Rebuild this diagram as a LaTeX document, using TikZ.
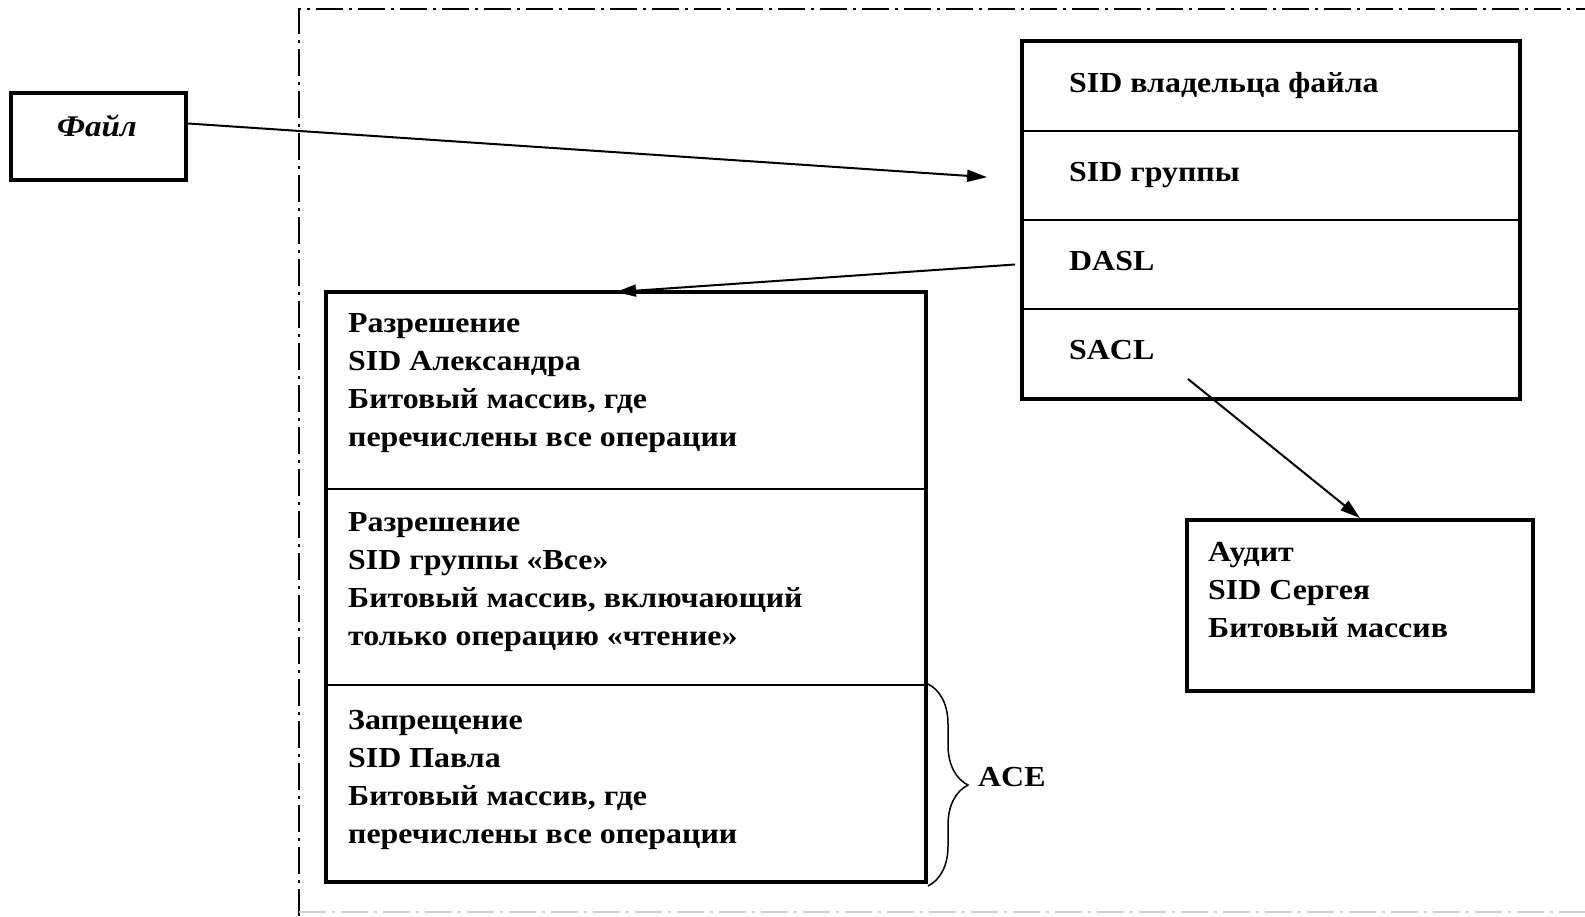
\documentclass[tikz,border=0pt]{standalone}
\usepackage{fontspec}
\setmainfont{Liberation Serif}[FakeStretch=1.1]
\usetikzlibrary{arrows.meta,decorations.pathreplacing,calc}

\begin{document}
\begin{tikzpicture}[x=1pt,y=-1pt,
  frameline/.style={line width=2pt, dash pattern=on 27pt off 6pt on 3pt off 6pt},
  cell/.style={draw, line width=2pt, inner sep=0pt},
  outline/.style={draw, line width=4pt},
  txt/.style={anchor=base west, inner sep=0pt, font=\fontsize{29}{38.3}\selectfont\bfseries},
  link/.style={line width=2pt, -{Triangle[length=20pt,width=12pt]}},
]
\useasboundingbox (0,0) rectangle (1585,916);

% dash-dot frame around the security descriptor
\draw[frameline] (299,916) -- (299,9) -- (1600,9);
\draw[frameline, black!18] (299,912) -- (1600,912);

% the file
\node[outline, minimum width=175pt, minimum height=87pt] (file) at (98.5,136.5) {};
\node[inner sep=0pt, font=\fontsize{30}{32}\selectfont\bfseries\itshape] (filetxt) at (97,126) {Файл};

% security descriptor table
\node[cell, minimum width=496pt, minimum height=89pt] (own)  at (1271,86.5) {};
\node[cell, minimum width=496pt, minimum height=89pt] (grp)  at (1271,175.5) {};
\node[cell, minimum width=496pt, minimum height=89pt] (dasl) at (1271,264.5) {};
\node[cell, minimum width=496pt, minimum height=89pt] (sacl) at (1271,353.5) {};
\draw[outline] (own.north west) rectangle (sacl.south east);
\node[txt] (owntxt)  at (1069,92.5)  {SID владельца файла};
\node[txt] (grptxt)  at (1069,181.5) {SID группы};
\node[txt] (dasltxt) at (1069,270.5) {DASL};
\node[txt] (sacltxt) at (1069,359.5) {SACL};

% access control entries
\node[cell, minimum width=598pt, minimum height=196pt] (ace1) at (626,391) {};
\node[cell, minimum width=598pt, minimum height=196pt] (ace2) at (626,587) {};
\node[cell, minimum width=598pt, minimum height=196pt] (ace3) at (626,783) {};
\draw[outline] (ace1.north west) rectangle (ace3.south east);

\node[txt] (a1l1) at (348,332)   {Разрешение};
\node[txt] (a1l2) at (348,370.3) {SID Александра};
\node[txt] (a1l3) at (348,408.6) {Битовый массив, где};
\node[txt] (a1l4) at (348,446.9) {перечислены все операции};

\node[txt] (a2l1) at (348,531)   {Разрешение};
\node[txt] (a2l2) at (348,569.3) {SID группы «Все»};
\node[txt] (a2l3) at (348,607.6) {Битовый массив, включающий};
\node[txt] (a2l4) at (348,645.9) {только операцию «чтение»};

\node[txt] (a3l1) at (348,729)   {Запрещение};
\node[txt] (a3l2) at (348,767.3) {SID Павла};
\node[txt] (a3l3) at (348,805.6) {Битовый массив, где};
\node[txt] (a3l4) at (348,843.9) {перечислены все операции};

% brace marking one entry
\draw[line width=1.5pt, decorate, decoration={brace, amplitude=40pt}]
  ($(ace3.north east)+(2,0)$) coordinate (bracetop) -- ($(ace3.south east)+(2,4)$) coordinate (bracebot);
\node[txt] (acetxt) at (978,786) {ACE};

% audit entry
\node[outline, minimum width=346pt, minimum height=171pt] (audit) at (1360,605.5) {};
\node[txt] (au1) at (1208,561) {Аудит};
\node[txt] (au2) at (1208,599) {SID Сергея};
\node[txt] (au3) at (1208,637) {Битовый массив};

% connectors
\draw[link, shorten >=35pt] ([yshift=13pt]file.east) -- ($(grp.west)+(0,4)$);
\draw[link] ([xshift=-7pt]dasl.west) -- ([xshift=-10pt]ace1.north);
\coordinate (saclfoot) at (1188,379);
\draw[link] (saclfoot) -- (audit.north);
\end{tikzpicture}
\end{document}
